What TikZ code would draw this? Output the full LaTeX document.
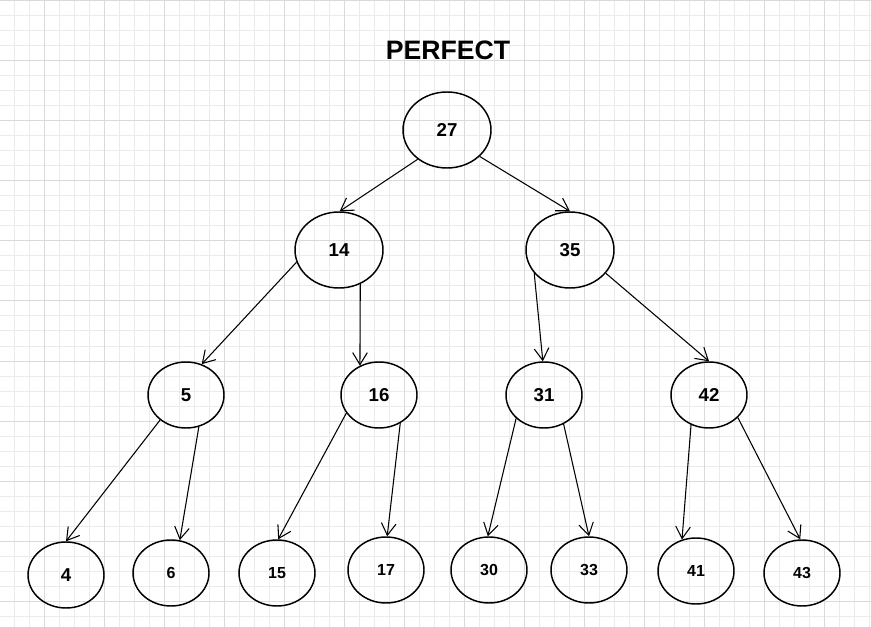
\documentclass[tikz,border=0pt]{standalone}
\usepackage{fontspec}
\setmainfont{Liberation Sans}
\usetikzlibrary{arrows.meta, shapes.geometric}
\definecolor{gridminor}{HTML}{EBEBEB}
\definecolor{gridmajor}{HTML}{DADADA}
\tikzstyle{key}=[draw, ellipse, line width=1.1pt, inner sep=0pt, font=\bfseries\fontsize{14}{16}\selectfont]
\tikzstyle{bigkey}=[key, minimum width=66pt, minimum height=57pt]
\tikzstyle{midkey}=[key, minimum width=57pt, minimum height=49.5pt]
\tikzstyle{leafkey}=[midkey, font=\bfseries\fontsize{12}{14}\selectfont]
\tikzstyle{child}=[-{Straight Barb[length=9pt, width=11pt]}, line width=0.8pt]
\newcommand{\drawpaper}{
  \foreach \gx in {-1,14,...,871} \draw[gridminor, line width=0.75pt] (\gx,0) -- (\gx,627);
  \foreach \gy in {1,16,...,627} \draw[gridminor, line width=0.75pt] (0,\gy) -- (871,\gy);
  \foreach \gx in {44,104,...,871} \draw[gridmajor, line width=0.75pt] (\gx,0) -- (\gx,627);
  \foreach \gy in {1,61,...,627} \draw[gridmajor, line width=0.75pt] (0,\gy) -- (871,\gy);
}

\begin{document}
\begin{tikzpicture}[x=0.75pt, y=-0.75pt]
    \useasboundingbox (0,0) rectangle (871,627);
    \drawpaper{}
    \node[font=\bfseries\fontsize{20}{22}\selectfont] (title) at (448,50) {PERFECT};
    \node[bigkey] (n27) at (447,130) {27};
    \node[bigkey] (n14) at (339,250) {14};
    \node[bigkey] (n35) at (570,250) {35};
    \node[midkey] (n5) at (186,395) {5};
    \node[midkey] (n16) at (379,395) {16};
    \node[midkey] (n31) at (544,395) {31};
    \node[midkey] (n42) at (709,395) {42};
    \node[midkey] (n4) at (66,575) {4};
    \node[leafkey] (n6) at (171,573) {6};
    \node[leafkey] (n15) at (277,573) {15};
    \node[leafkey] (n17) at (386,570) {17};
    \node[leafkey] (n30) at (489,570) {30};
    \node[leafkey] (n33) at (589,570) {33};
    \node[leafkey] (n41) at (696,571) {41};
    \node[leafkey] (n43) at (802,573) {43};
    \draw[child] (n27.225) to (n14.89);
    \draw[child] (n27.321) to (n35.90);
    \draw[child] (n14.196) to (n5.63);
    \draw[child] (n14.302) to (n16.123);
    \draw[child] (n35.213) to (n31.92);
    \draw[child] (n35.327) to (n42.90);
    \draw[child] (n5.224) to (n4.90);
    \draw[child] (n5.292) to (n6.75);
    \draw[child] (n16.209) to (n15.88);
    \draw[child] (n16.307) to (n17.88);
    \draw[child] (n31.220) to (n30.92);
    \draw[child] (n31.304) to (n33.90);
    \draw[child] (n42.239) to (n41.114);
    \draw[child] (n42.322) to (n43.93);
  \end{tikzpicture}
\end{document}
